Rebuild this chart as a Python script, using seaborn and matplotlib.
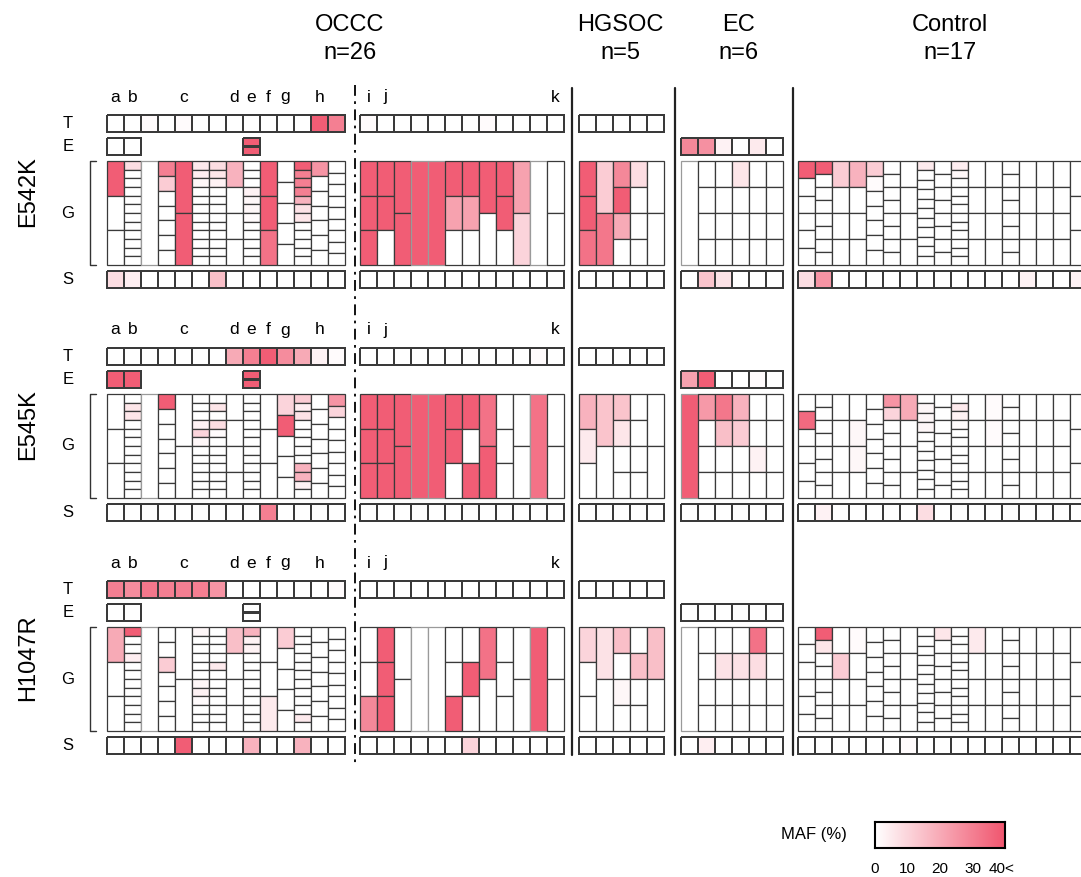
"""
PIK3CA hotspot MAF map: T / E / G / S rows for each sample group
"""

import numpy as np
import matplotlib.pyplot as plt
import seaborn as sns
from matplotlib.colors import LinearSegmentedColormap, Normalize

# ---------------------------------------------------------------- data
GROUPS = ["OCCC_L", "OCCC_R", "HGSOC", "EC", "Control"]
HEADERS = [("OCCC\nn=26", 350), ("HGSOC\nn=5", 620), ("EC\nn=6", 738), ("Control\nn=17", 950)]
MUTATIONS = ["E542K", "E545K", "H1047R"]

# number of G segments per patient column
SEGS = {
    "OCCC_L": [3, 12, 1, 7, 2, 12, 12, 4, 12, 3, 5, 12, 7, 9],
    "OCCC_R": [3, 3, 2, 1, 1, 3, 3, 2, 3, 2, 1, 2],
    "HGSOC": [3, 2, 4, 4, 2],
    "EC": [1, 4, 4, 4, 4, 4],
    "Control": [6, 8, 4, 4, 7, 8, 4, 11, 8, 12, 4, 4, 8, 4, 4, 4, 3],
}

LETTERS_L = ["a", "b", "c", "d", "e", "f", "g", "h"]
LETTER_COLS_L = [0, 1, 4, 7, 8, 9, 10, 12]
LETTERS_R = ["i", "j", "k"]
LETTER_COLS_R = [0, 1, 11]

# T row (OCCC left, OCCC right, HGSOC)
T_E542K = {"OCCC_L": [0, 0, 1, 0, 1, 0, 0, 0, 0, 0, 0, 0, 38, 30],
           "OCCC_R": [1, 0, 0, 0, 0, 0, 0, 1, 0, 0, 0, 0],
           "HGSOC": [0, 0, 0, 0, 0]}
T_E545K = {"OCCC_L": [0, 0, 0, 0, 0, 0, 0, 20, 30, 38, 27, 20, 3, 1],
           "OCCC_R": [0, 0, 0, 0, 0, 0, 0, 0, 0, 0, 1, 0],
           "HGSOC": [0, 0, 0, 0, 0]}
T_H1047R = {"OCCC_L": [30, 27, 32, 30, 30, 30, 25, 0, 0, 0, 0, 0, 0, 1],
            "OCCC_R": [0, 0, 0, 0, 0, 0, 0, 0, 0, 0, 0, 0],
            "HGSOC": [0, 0, 0, 0, 0]}

# E row (patients a, b; patient e split in two; EC)
E_E542K = {"ab": [0, 0], "e": [38, 38], "EC": [28, 26, 3, 0, 5, 0]}
E_E545K = {"ab": [38, 38], "e": [38, 38], "EC": [22, 38, 0, 0, 1, 0]}
E_H1047R = {"ab": [0, 0], "e": [0, 0], "EC": [0, 0, 0, 0, 0, 0]}

# S row
S_E542K = {"OCCC_L": [8, 4, 0, 0, 0, 0, 15, 0, 0, 0, 0, 0, 0, 0],
           "OCCC_R": [0, 0, 0, 0, 0, 0, 0, 0, 0, 0, 0, 0],
           "HGSOC": [0, 0, 0, 0, 0],
           "EC": [0, 14, 7, 0, 0, 0],
           "Control": [8, 25, 0, 0, 0, 0, 0, 0, 0, 0, 0, 0, 0, 3, 0, 0, 3]}
S_E545K = {"OCCC_L": [0, 0, 0, 0, 0, 0, 0, 0, 0, 30, 0, 0, 0, 0],
           "OCCC_R": [0, 0, 0, 0, 0, 0, 0, 0, 0, 0, 0, 0],
           "HGSOC": [0, 0, 0, 0, 0],
           "EC": [0, 0, 0, 0, 0, 0],
           "Control": [0, 3, 0, 0, 0, 0, 0, 8, 0, 0, 0, 0, 0, 0, 0, 0, 0]}
S_H1047R = {"OCCC_L": [0, 0, 0, 0, 38, 0, 0, 0, 18, 0, 0, 18, 0, 0],
            "OCCC_R": [0, 0, 0, 0, 0, 0, 10, 0, 0, 0, 0, 0],
            "HGSOC": [0, 0, 0, 0, 0],
            "EC": [0, 4, 0, 0, 0, 0],
            "Control": [0, 0, 0, 0, 0, 0, 1, 0, 0, 0, 0, 0, 0, 0, 0, 0, 0]}

# G block: non-zero MAF values keyed by (column, segment from top)
G_E542K = {
    "OCCC_L": {(0, 0): 38, (1, 0): 8, (3, 0): 30, (3, 1): 12, (4, 0): 38, (4, 1): 38,
               (5, 0): 5, (5, 1): 4, (5, 2): 2, (6, 0): 8, (6, 1): 6, (6, 2): 3, (7, 0): 18,
               (8, 3): 3, (8, 4): 2, (8, 5): 2, (8, 6): 1, (9, 0): 38, (9, 1): 38, (9, 2): 33,
               (11, 0): 38, (11, 1): 30, (11, 2): 30, (11, 3): 30, (11, 4): 18, (11, 5): 7,
               (11, 6): 6, (12, 0): 25},
    "OCCC_R": {(0, 0): 38, (0, 1): 38, (0, 2): 38, (1, 0): 38, (1, 1): 38, (2, 0): 38,
               (2, 1): 38, (3, 0): 38, (4, 0): 38, (5, 0): 38, (5, 1): 22, (6, 0): 38,
               (6, 1): 22, (7, 0): 38, (8, 0): 38, (8, 1): 38, (9, 0): 22, (9, 1): 10},
    "HGSOC": {(0, 0): 38, (0, 1): 38, (0, 2): 33, (1, 0): 12, (1, 1): 32, (2, 0): 28,
              (2, 1): 38, (2, 2): 20, (3, 0): 8},
    "EC": {(3, 0): 6},
    "Control": {(0, 0): 38, (1, 0): 38, (2, 0): 12, (3, 0): 18, (4, 0): 12, (4, 1): 1,
                (7, 0): 5, (9, 0): 4, (9, 1): 2},
}
G_E545K = {
    "OCCC_L": {(1, 1): 6, (1, 2): 6, (3, 0): 38, (5, 3): 3, (5, 4): 10, (5, 5): 2,
               (6, 1): 6, (6, 3): 8, (6, 4): 1, (10, 0): 10, (10, 1): 38, (11, 0): 12,
               (11, 1): 4, (11, 2): 7, (11, 8): 18, (11, 9): 18, (11, 10): 3,
               (13, 0): 25, (13, 1): 10},
    "OCCC_R": {(0, 0): 38, (0, 1): 38, (0, 2): 38, (1, 0): 38, (1, 1): 38, (1, 2): 38,
               (2, 0): 38, (2, 1): 38, (3, 0): 38, (4, 0): 38, (5, 0): 38, (5, 1): 38,
               (6, 0): 38, (6, 2): 38, (7, 0): 33, (7, 1): 38, (10, 0): 33},
    "HGSOC": {(0, 0): 18, (0, 1): 5, (1, 0): 14, (2, 0): 14, (2, 1): 6},
    "EC": {(0, 0): 38, (1, 0): 24, (2, 0): 32, (2, 1): 15, (3, 0): 18, (3, 1): 12, (4, 2): 3},
    "Control": {(0, 1): 35, (3, 1): 2, (3, 2): 2, (5, 0): 25, (5, 1): 10, (6, 0): 20,
                (7, 1): 2, (7, 2): 2, (7, 3): 2, (9, 1): 5, (9, 2): 3, (9, 3): 1,
                (11, 0): 1, (11, 1): 1},
}
G_H1047R = {
    "OCCC_L": {(0, 0): 20, (1, 0): 38, (1, 3): 4, (3, 2): 12, (5, 0): 2, (5, 6): 2,
               (5, 7): 3, (5, 8): 1, (6, 4): 5, (7, 0): 15, (8, 0): 18, (8, 1): 3, (8, 2): 3,
               (9, 2): 5, (10, 0): 12, (11, 10): 5},
    "OCCC_R": {(0, 2): 28, (1, 0): 38, (1, 1): 38, (1, 2): 38, (5, 2): 38, (6, 1): 38,
               (7, 0): 33, (10, 0): 38},
    "HGSOC": {(0, 0): 10, (1, 0): 7, (2, 0): 15, (2, 2): 2, (3, 1): 15, (4, 0): 15},
    "EC": {(2, 1): 7, (3, 1): 7, (4, 0): 33, (4, 1): 8},
    "Control": {(1, 0): 38, (1, 1): 6, (2, 1): 12, (3, 0): 1, (8, 0): 6, (10, 0): 5},
}

T_ROWS = [T_E542K, T_E545K, T_H1047R]
E_ROWS = [E_E542K, E_E545K, E_H1047R]
S_ROWS = [S_E542K, S_E545K, S_H1047R]
G_ROWS = [G_E542K, G_E545K, G_H1047R]

# ---------------------------------------------------------------- layout (pixels)
W, H = 1081, 877
CELL = 17
GROUP_X = {"OCCC_L": 107, "OCCC_R": 360, "HGSOC": 579, "EC": 681, "Control": 798}
BLOCK_TOP = [115, 348, 581]
T_Y, E_Y, G_Y, S_Y = 0, 23, 46, 156
ROW_H, G_H = 17, 104
EDGE = "#3a3a3a"
LW = 0.9

sns.set_style("white")
plt.rcParams["font.family"] = ["Liberation Sans", "DejaVu Sans"]
plt.rcParams["text.color"] = "black"
plt.rcParams["xtick.color"] = "black"

cmap = LinearSegmentedColormap.from_list("maf", ["#ffffff", "#f0556e"])
norm = Normalize(0, 40)

fig = plt.figure(figsize=(W / 100, H / 100), dpi=100)
bg = fig.add_axes([0, 0, 1, 1])
bg.set_xlim(0, W)
bg.set_ylim(H, 0)
bg.axis("off")


def px_axes(x0, y0, w, h):
    return fig.add_axes([x0 / W, 1 - (y0 + h) / H, w / W, h / H])


def strip(x0, y0, vals, nrows=1):
    data = np.array(vals, dtype=float).reshape(nrows, -1)
    ax = px_axes(x0, y0, data.shape[1] * CELL, ROW_H)
    sns.heatmap(data, ax=ax, cmap=cmap, vmin=0, vmax=40, cbar=False,
                linewidths=LW, linecolor=EDGE, xticklabels=False, yticklabels=False)
    mesh = ax.collections[0]
    mesh.set_clip_on(False)
    mesh.set_antialiased(True)
    mesh.set_snap(False)
    for sp in ax.spines.values():
        sp.set_visible(False)
    ax.patch.set_visible(False)
    return ax


def gblock(x0, y0, segs, vals):
    ax = px_axes(x0, y0, len(segs) * CELL, G_H)
    for c, n in enumerate(segs):
        h = 1.0 / n
        colors = [cmap(norm(vals.get((c, s), 0))) for s in range(n)]
        ec = "#9a9a9a" if n == 1 else EDGE
        ax.bar([c] * n, [h] * n, bottom=[s * h for s in range(n)], width=1,
               align="edge", color=colors, edgecolor=ec, linewidth=LW, clip_on=False)
    ax.set_xlim(0, len(segs))
    ax.set_ylim(1, 0)
    ax.axis("off")
    return ax


for m, mut in enumerate(MUTATIONS):
    top = BLOCK_TOP[m]
    # T row
    for g in ["OCCC_L", "OCCC_R", "HGSOC"]:
        strip(GROUP_X[g], top + T_Y, T_ROWS[m][g])
    # E row
    strip(GROUP_X["OCCC_L"], top + E_Y, E_ROWS[m]["ab"])
    strip(GROUP_X["OCCC_L"] + 8 * CELL, top + E_Y, E_ROWS[m]["e"], nrows=2)
    strip(GROUP_X["EC"], top + E_Y, E_ROWS[m]["EC"])
    # G block
    for g in GROUPS:
        gblock(GROUP_X[g], top + G_Y, SEGS[g], G_ROWS[m][g])
    # S row
    for g in GROUPS:
        strip(GROUP_X[g], top + S_Y, S_ROWS[m][g])

    # labels
    for lab, c in zip(LETTERS_L, LETTER_COLS_L):
        bg.text(GROUP_X["OCCC_L"] + (c + 0.5) * CELL, top - 18, lab,
                ha="center", va="center", fontsize=12.5)
    for lab, c in zip(LETTERS_R, LETTER_COLS_R):
        bg.text(GROUP_X["OCCC_R"] + (c + 0.5) * CELL, top - 18, lab,
                ha="center", va="center", fontsize=12.5)
    for lab, y in zip("TEGS", [T_Y + ROW_H / 2, E_Y + ROW_H / 2, G_Y + G_H / 2, S_Y + ROW_H / 2]):
        bg.text(68, top + y, lab, ha="center", va="center", fontsize=12)
    bg.plot([96, 90, 90, 96], [top + G_Y, top + G_Y, top + G_Y + G_H, top + G_Y + G_H],
            color="#333333", lw=1)
    bg.text(28, top + 77, mut, rotation=90, ha="center", va="center", fontsize=17)

# group headers
for txt, x in HEADERS:
    bg.text(x, 39, txt, ha="center", va="center", fontsize=17, linespacing=1.35)

# separators
bg.plot([355, 355], [85, 765], color="black", lw=1.3, linestyle=(0, (6, 3, 1.5, 3)))
for x in [572, 675, 793]:
    bg.plot([x, x], [88, 755], color="#222222", lw=1.6)

# colour scale
cax = px_axes(875, 822, 130, 26)
grad = np.linspace(0, 40, 256)[None, :]
sns.heatmap(grad, ax=cax, cmap=cmap, vmin=0, vmax=40, cbar=False,
            xticklabels=False, yticklabels=False)
for sp in cax.spines.values():
    sp.set_visible(True)
    sp.set_linewidth(1.5)
    sp.set_color("black")
cax.set_xticks([0, 64, 128, 192, 250])
cax.set_xticklabels(["0", "10", "20", "30", "40<"], fontsize=11)
cax.tick_params(axis="x", length=0, pad=10)
bg.text(847, 835, "MAF (%)", ha="right", va="center", fontsize=12)

fig.savefig("out.png", dpi=100)
